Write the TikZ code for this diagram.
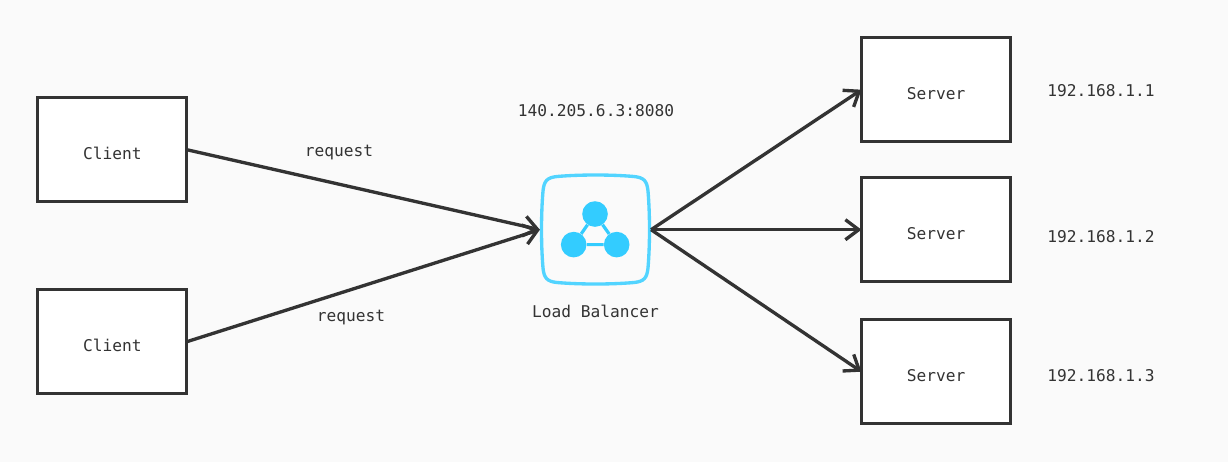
\documentclass[tikz,border=0pt]{standalone}
\usepackage{fontspec}
\setmonofont{DejaVu Sans Mono}
\usetikzlibrary{arrows.meta}
\definecolor{inkgray}{HTML}{333333}
\definecolor{lbblue}{HTML}{33CCFF}
\definecolor{pagegray}{HTML}{FAFAFA}
\tikzset{
	label/.style={text=inkgray, font=\ttfamily\fontsize{12.15}{14}\selectfont, inner sep=0pt},
	hostbox/.style={label, draw=inkgray, fill=white, line width=2.25pt, outer sep=0pt, minimum width=111.75pt, minimum height=78.4pt, text height=14.5pt, text depth=0pt},
	link/.style={draw=inkgray, line width=2.5pt, -{Straight Barb[length=10pt, width=15pt, line width=2.5pt]}},
	dot/.style={circle, fill=lbblue, minimum size=19.2pt, inner sep=0pt},
}

\begin{document}
\begin{tikzpicture}[x=.75pt, y=-.75pt]
	\fill [pagegray] (0,0) rectangle (1228,462);
	\useasboundingbox (0,0) rectangle (1228,462);

	\node [hostbox] (client1) at (112.3,149.7) {Client};
	\node [hostbox] (client2) at (112.3,341.7) {Client};
	\node [hostbox] (server1) at (936,89.7) {Server};
	\node [hostbox] (server2) at (936,229.7) {Server};
	\node [hostbox] (server3) at (936,371.7) {Server};

	% load balancer icon
	\node [minimum width=83pt, minimum height=83pt, inner sep=0pt] (lb) at (595.5,229.7) {};
	\draw [lbblue!85!white, line width=2.5pt] (557,176.5) .. controls (580,174.5) and (611,174.5) .. (634,176.5)
		.. controls (644,177.5) and (647,181) .. (648,191)
		.. controls (650,215) and (650,244) .. (648,268)
		.. controls (647,278) and (644,281.5) .. (634,282.5)
		.. controls (611,284.5) and (580,284.5) .. (557,282.5)
		.. controls (547,281.5) and (544,278) .. (543,268)
		.. controls (541,244) and (541,215) .. (543,191)
		.. controls (544,181) and (547,177.5) .. (557,176.5) -- cycle;
	\node [dot] (top) at (595,214) {};
	\node [dot] (left) at (573.7,244.6) {};
	\node [dot] (right) at (616.7,244.6) {};
	\draw [lbblue, line width=2.4pt] (top) -- (left) -- (right) -- (top);

	\draw [link] (client1.east) -- (lb.west);
	\draw [link] (client2.east) -- (lb.west);
	\draw [link] (lb.east) -- (server1.west);
	\draw [link] (lb.east) -- (server2.west);
	\draw [link] (lb.east) -- (server3.west);

	\node [label] (req1) at (339,153) {request};
	\node [label] (req2) at (351,318) {request};
	\node [label] (addr) at (596,111) {140.205.6.3:8080};
	\node [label] (lbname) at (595.5,311) {Load Balancer};
	\node [label] (ip1) at (1101,91) {192.168.1.1};
	\node [label] (ip2) at (1101,237) {192.168.1.2};
	\node [label] (ip3) at (1101,376) {192.168.1.3};
\end{tikzpicture}
\end{document}
